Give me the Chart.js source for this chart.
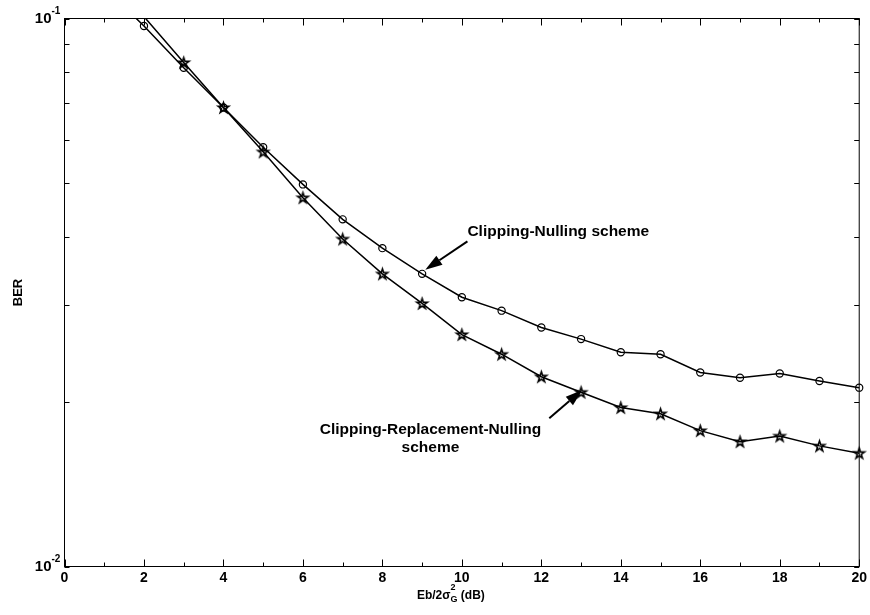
<!DOCTYPE html>
<html lang="en">
<head>
<meta charset="UTF-8">
<title>BER vs Eb/2σG² (dB)</title>
<script src="https://cdn.jsdelivr.net/npm/chart.js"></script>
<style>
  html, body { margin: 0; padding: 0; background: #fff; }
</style>
</head>
<body>
<canvas id="berChart" width="870" height="615"></canvas>

<script>
// Eb/2sigma_G^2 in dB
const ebNo = [1, 2, 3, 4, 5, 6, 7, 8, 9, 10, 11, 12, 13, 14, 15, 16, 17, 18, 19, 20];

// BER of the two schemes
const berNulling = [0.114, 0.0969, 0.0813, 0.0688, 0.0582, 0.0498, 0.0430, 0.0381, 0.0342, 0.0310,
                    0.0293, 0.0273, 0.0260, 0.0246, 0.0244, 0.0226, 0.0221, 0.0225, 0.0218, 0.0212];
const berReplacement = [0.120, 0.1008, 0.0831, 0.0688, 0.0571, 0.0471, 0.0396, 0.0342, 0.0302, 0.0265,
                        0.0244, 0.0222, 0.0208, 0.0195, 0.0190, 0.0177, 0.0169, 0.0173, 0.0166, 0.0161];

// axis ticks
const xMin = 0, xMax = 20, xLabelStep = 2;
const yTicks = [0.01, 0.02, 0.03, 0.04, 0.05, 0.06, 0.07, 0.08, 0.09, 0.1];
const yLabelValues = [0.01, 0.1];
const yLabelExps = ['-2', '-1'];
const yMin = 0.01, yMax = 0.1;

const FONT = '"Liberation Sans", Arial, Helvetica, sans-serif';

// text + arrow callouts, placed in data units
const callouts = [
  { lines: ['Clipping-Nulling scheme'], align: 'left', at: [10.14, 0.0408],
    tail: [10.14, 0.0392], tip: [9.08, 0.0348] },
  { lines: ['Clipping-Replacement-Nulling', 'scheme'], align: 'center', at: [9.21, 0.01778],
    lineGap: 18, tail: [12.2, 0.01864], tip: [13.03, 0.0210] }
];

// pentagram marker
function pentagram(r, lw) {
  const size = Math.ceil(2 * r + 2 * lw + 2);
  const c = document.createElement('canvas');
  c.width = c.height = size;
  const g = c.getContext('2d');
  const cx = size / 2, cy = size / 2 + 0.5, ri = r * 0.382;
  g.beginPath();
  for (let k = 0; k < 10; k++) {
    const rad = k % 2 ? ri : r;
    const a = -Math.PI / 2 + k * Math.PI / 5;
    g.lineTo(cx + rad * Math.cos(a), cy + rad * Math.sin(a));
  }
  g.closePath();
  g.lineWidth = lw;
  g.strokeStyle = '#000';
  g.stroke();
  return c;
}

const starMarker = pentagram(5.5, 1.6);
const toPoints = vals => ebNo.map((x, i) => ({ x: x, y: vals[i] }));
const hideAbove = r => ctx => (ctx.raw && ctx.raw.y > yMax ? 0 : r);

function drawArrow(ctx, x0, y0, x1, y1) {
  const a = Math.atan2(y1 - y0, x1 - x0);
  const len = 17, half = 5.5;
  const bx = x1 - len * Math.cos(a), by = y1 - len * Math.sin(a);
  ctx.beginPath();
  ctx.moveTo(x0, y0);
  ctx.lineTo(bx, by);
  ctx.stroke();
  ctx.beginPath();
  ctx.moveTo(x1, y1);
  ctx.lineTo(bx + half * Math.sin(a), by - half * Math.cos(a));
  ctx.lineTo(bx - half * Math.sin(a), by + half * Math.cos(a));
  ctx.closePath();
  ctx.fill();
}

// box, inward ticks, callouts
const axesBox = {
  id: 'axesBox',
  afterDatasetsDraw(chart) {
    const { ctx, chartArea: a, scales: { x, y } } = chart;
    ctx.save();
    ctx.strokeStyle = '#000';
    ctx.fillStyle = '#000';
    ctx.lineWidth = 1;

    ctx.beginPath();
    x.ticks.forEach(t => {
      const px = Math.round(x.getPixelForValue(t.value)) + 0.5;
      const len = t.value % xLabelStep === 0 ? 7 : 4;
      ctx.moveTo(px, a.bottom); ctx.lineTo(px, a.bottom - len);
      ctx.moveTo(px, a.top); ctx.lineTo(px, a.top + len);
    });
    y.ticks.forEach(t => {
      const py = Math.round(y.getPixelForValue(t.value)) + 0.5;
      ctx.moveTo(a.left, py); ctx.lineTo(a.left + 5, py);
      ctx.moveTo(a.right, py); ctx.lineTo(a.right - 5, py);
    });
    ctx.stroke();
    ctx.strokeRect(a.left, a.top, a.right - a.left, a.bottom - a.top);

    // callouts
    ctx.lineWidth = 2;
    ctx.font = 'bold 15.5px ' + FONT;
    ctx.textBaseline = 'middle';
    callouts.forEach(c => {
      ctx.textAlign = c.align;
      const tx = x.getPixelForValue(c.at[0]), ty = y.getPixelForValue(c.at[1]);
      c.lines.forEach((s, i) => ctx.fillText(s, tx, ty + i * (c.lineGap || 0)));
      drawArrow(ctx,
        x.getPixelForValue(c.tail[0]), y.getPixelForValue(c.tail[1]),
        x.getPixelForValue(c.tip[0]), y.getPixelForValue(c.tip[1]));
    });
    ctx.restore();
  },
  afterDraw(chart) {
    const { ctx, chartArea: a, scales: { y } } = chart;
    ctx.save();
    ctx.fillStyle = '#000';

    // decade labels 10^n
    yLabelValues.forEach((v, i) => {
      const py = y.getPixelForValue(v);
      ctx.font = 'bold 15px ' + FONT;
      ctx.textAlign = 'right';
      ctx.textBaseline = 'middle';
      ctx.fillText('10', a.left - 13, py);
      ctx.font = 'bold 10px ' + FONT;
      ctx.textAlign = 'left';
      ctx.textBaseline = 'alphabetic';
      ctx.fillText(yLabelExps[i], a.left - 13, py - 5);
    });

    // y title
    ctx.font = 'bold 13px ' + FONT;
    ctx.textAlign = 'center';
    ctx.textBaseline = 'middle';
    ctx.translate(18, (a.top + a.bottom) / 2);
    ctx.rotate(-Math.PI / 2);
    ctx.fillText('BER', 0, 0);
    ctx.setTransform(1, 0, 0, 1, 0, 0);

    // x title: Eb/2σ_G^2 (dB)
    const main = 'bold 12px ' + FONT, small = 'bold 9px ' + FONT;
    ctx.textAlign = 'left';
    ctx.textBaseline = 'alphabetic';
    ctx.font = main;
    const w1 = ctx.measureText('Eb/2σ').width;
    const w3 = ctx.measureText(' (dB)').width;
    ctx.font = small;
    const w2 = Math.max(ctx.measureText('G').width, ctx.measureText('2').width);
    const base = 599;
    let sx = (a.left + a.right) / 2 - 11 - (w1 + w2 + w3) / 2;
    ctx.font = main;
    ctx.fillText('Eb/2σ', sx, base);
    ctx.font = small;
    ctx.fillText('G', sx + w1, base + 3);
    ctx.fillText('2', sx + w1, base - 9);
    ctx.font = main;
    ctx.fillText(' (dB)', sx + w1 + w2, base);
    ctx.restore();
  }
};

const lineStyle = {
  borderColor: '#000',
  borderWidth: 1.5,
  tension: 0,
  fill: false,
  clip: { left: 6, top: 0, right: 8, bottom: 6 }
};

new Chart(document.getElementById('berChart'), {
  type: 'line',
  data: {
    datasets: [
      Object.assign({
        label: 'Clipping-Nulling scheme',
        data: toPoints(berNulling),
        pointStyle: 'circle',
        pointRadius: hideAbove(3.6),
        pointBorderWidth: 1.2,
        pointBorderColor: '#000',
        pointBackgroundColor: 'rgba(0,0,0,0)'
      }, lineStyle),
      Object.assign({
        label: 'Clipping-Replacement-Nulling scheme',
        data: toPoints(berReplacement),
        pointStyle: starMarker,
        pointRadius: hideAbove(5)
      }, lineStyle)
    ]
  },
  options: {
    responsive: false,
    animation: false,
    devicePixelRatio: 1,
    layout: { padding: { left: 0, top: 18.5, right: 9.5, bottom: 0 } },
    plugins: {
      legend: { display: false },
      tooltip: { enabled: false }
    },
    scales: {
      x: {
        type: 'linear',
        min: xMin,
        max: xMax,
        grid: { display: false, drawTicks: false },
        border: { display: false },
        ticks: {
          stepSize: 1,
          autoSkip: false,
          maxRotation: 0,
          padding: 3,
          color: '#000',
          font: { family: FONT, size: 14, weight: 'bold' },
          callback: v => (v % xLabelStep === 0 ? String(v) : '')
        },
        afterFit: s => { s.height = 48.5; }
      },
      y: {
        type: 'logarithmic',
        min: yMin,
        max: yMax,
        grid: { display: false, drawTicks: false },
        border: { display: false },
        ticks: { display: false },
        afterBuildTicks: s => { s.ticks = yTicks.map(v => ({ value: v })); },
        afterFit: s => { s.width = 64.5; }
      }
    }
  },
  plugins: [axesBox]
});
</script>
</body>
</html>
